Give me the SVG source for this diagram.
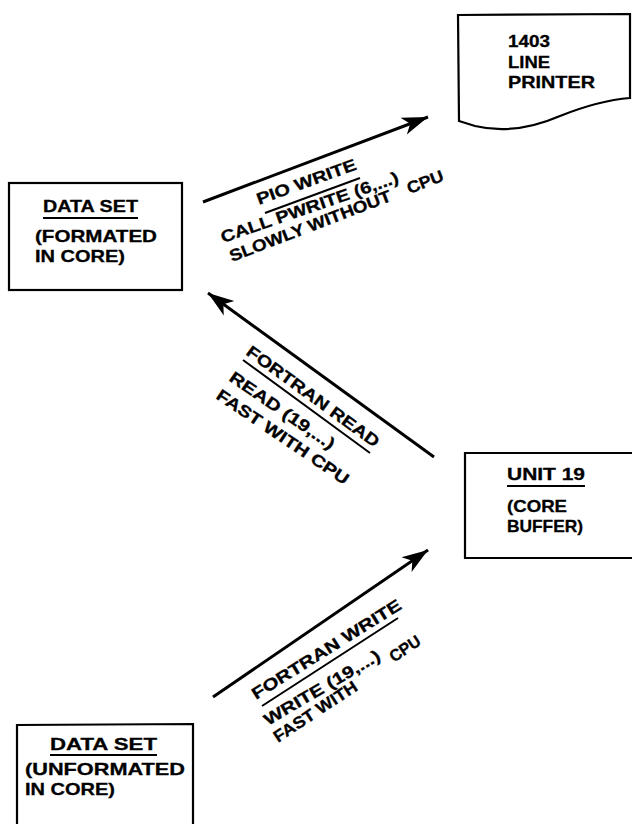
<svg xmlns="http://www.w3.org/2000/svg" width="632" height="824" viewBox="0 0 632 824">
<defs>
<style>
.box{fill:none;stroke:#000;stroke-width:2.2}
.t{font-family:"Liberation Sans",Arial,sans-serif;font-weight:bold;font-size:16.5px;fill:#000;stroke:#000;stroke-width:0.3}
.ul{stroke:#000;stroke-width:2}
.ar{stroke:#000;stroke-width:3;fill:none}
</style>
<marker id="ah" markerUnits="userSpaceOnUse" viewBox="-26 -10 28 20" markerWidth="28" markerHeight="20" refX="0" refY="0" orient="auto">
<path d="M0,0 L-26,-9 L-19,0 L-26,9 Z" fill="#000"/>
</marker>
</defs>
<rect width="632" height="824" fill="#fff"/>
<g id="printer">
<path class="box" d="M458,15 L630,14 L630,98 C605,100 585,106 560,116 C530,129 500,132 475,126 L459,121 Z"/>
<text class="t" x="508" y="47" textLength="42" lengthAdjust="spacingAndGlyphs">1403</text>
<text class="t" x="508" y="68" textLength="42" lengthAdjust="spacingAndGlyphs">LINE</text>
<text class="t" x="508" y="88" textLength="87" lengthAdjust="spacingAndGlyphs">PRINTER</text>
</g>
<g id="dataset-formated">
<rect class="box" x="9" y="183" width="173" height="107"/>
<text class="t" x="43" y="212" textLength="95" lengthAdjust="spacingAndGlyphs">DATA SET</text>
<line class="ul" x1="43" y1="218" x2="138" y2="218"/>
<text class="t" x="35" y="242" textLength="122" lengthAdjust="spacingAndGlyphs">(FORMATED</text>
<text class="t" x="35" y="262" textLength="90" lengthAdjust="spacingAndGlyphs">IN CORE)</text>
</g>
<g id="unit19">
<path class="box" d="M640,453 L465,453 L465,558 L640,558"/>
<text class="t" x="507" y="480" textLength="78" lengthAdjust="spacingAndGlyphs">UNIT 19</text>
<line class="ul" x1="507" y1="486" x2="585" y2="486"/>
<text class="t" x="507" y="512" textLength="60" lengthAdjust="spacingAndGlyphs">(CORE</text>
<text class="t" x="507" y="532" textLength="76" lengthAdjust="spacingAndGlyphs">BUFFER)</text>
</g>
<g id="dataset-unformated">
<path class="box" d="M17,830 L17,725 L193,724 L193,830"/>
<text class="t" x="50" y="750" textLength="107" lengthAdjust="spacingAndGlyphs">DATA  SET</text>
<line class="ul" x1="50" y1="755" x2="157" y2="755"/>
<text class="t" x="25" y="775" textLength="160" lengthAdjust="spacingAndGlyphs">(UNFORMATED</text>
<text class="t" x="25" y="795" textLength="90" lengthAdjust="spacingAndGlyphs">IN  CORE)</text>
</g>
<g id="connectors">
<line class="ar" x1="203" y1="202" x2="428" y2="117" marker-end="url(#ah)"/>
<line class="ar" x1="434" y1="457" x2="208" y2="293" marker-end="url(#ah)"/>
<line class="ar" x1="213" y1="697" x2="428" y2="550" marker-end="url(#ah)"/>
</g>
<g id="label-pio">
<text class="t" transform="translate(259,205) rotate(-20)" textLength="105" lengthAdjust="spacingAndGlyphs">PIO WRITE</text>
<line class="ul" x1="265" y1="213" x2="360" y2="178"/>
<text class="t" transform="translate(223,243) rotate(-19)" textLength="187" lengthAdjust="spacingAndGlyphs">CALL PWRITE (6,...)</text>
<text class="t" transform="translate(232,262) rotate(-21)"><tspan textLength="172" lengthAdjust="spacingAndGlyphs">SLOWLY WITHOUT</tspan><tspan x="190" textLength="38" lengthAdjust="spacingAndGlyphs">CPU</tspan></text>
</g>
<g id="label-read">
<text class="t" transform="translate(245,354) rotate(36)" textLength="160" lengthAdjust="spacingAndGlyphs">FORTRAN READ</text>
<line class="ul" x1="243" y1="360" x2="370" y2="453"/>
<text class="t" transform="translate(228,380) rotate(34.5)" textLength="124" lengthAdjust="spacingAndGlyphs">READ (19,...)</text>
<text class="t" transform="translate(215,398) rotate(34)" textLength="156" lengthAdjust="spacingAndGlyphs">FAST WITH CPU</text>
</g>
<g id="label-write">
<text class="t" transform="translate(256,700) rotate(-32)" textLength="173" lengthAdjust="spacingAndGlyphs">FORTRAN WRITE</text>
<line class="ul" x1="262" y1="706" x2="398" y2="618"/>
<text class="t" transform="translate(268,726) rotate(-30.5)" textLength="132" lengthAdjust="spacingAndGlyphs">WRITE (19,...)</text>
<text class="t" transform="translate(278,743) rotate(-33.5)"><tspan textLength="97" lengthAdjust="spacingAndGlyphs">FAST WITH</tspan><tspan x="141" dy="-3" textLength="34" lengthAdjust="spacingAndGlyphs">CPU</tspan></text>
</g>
</svg>
